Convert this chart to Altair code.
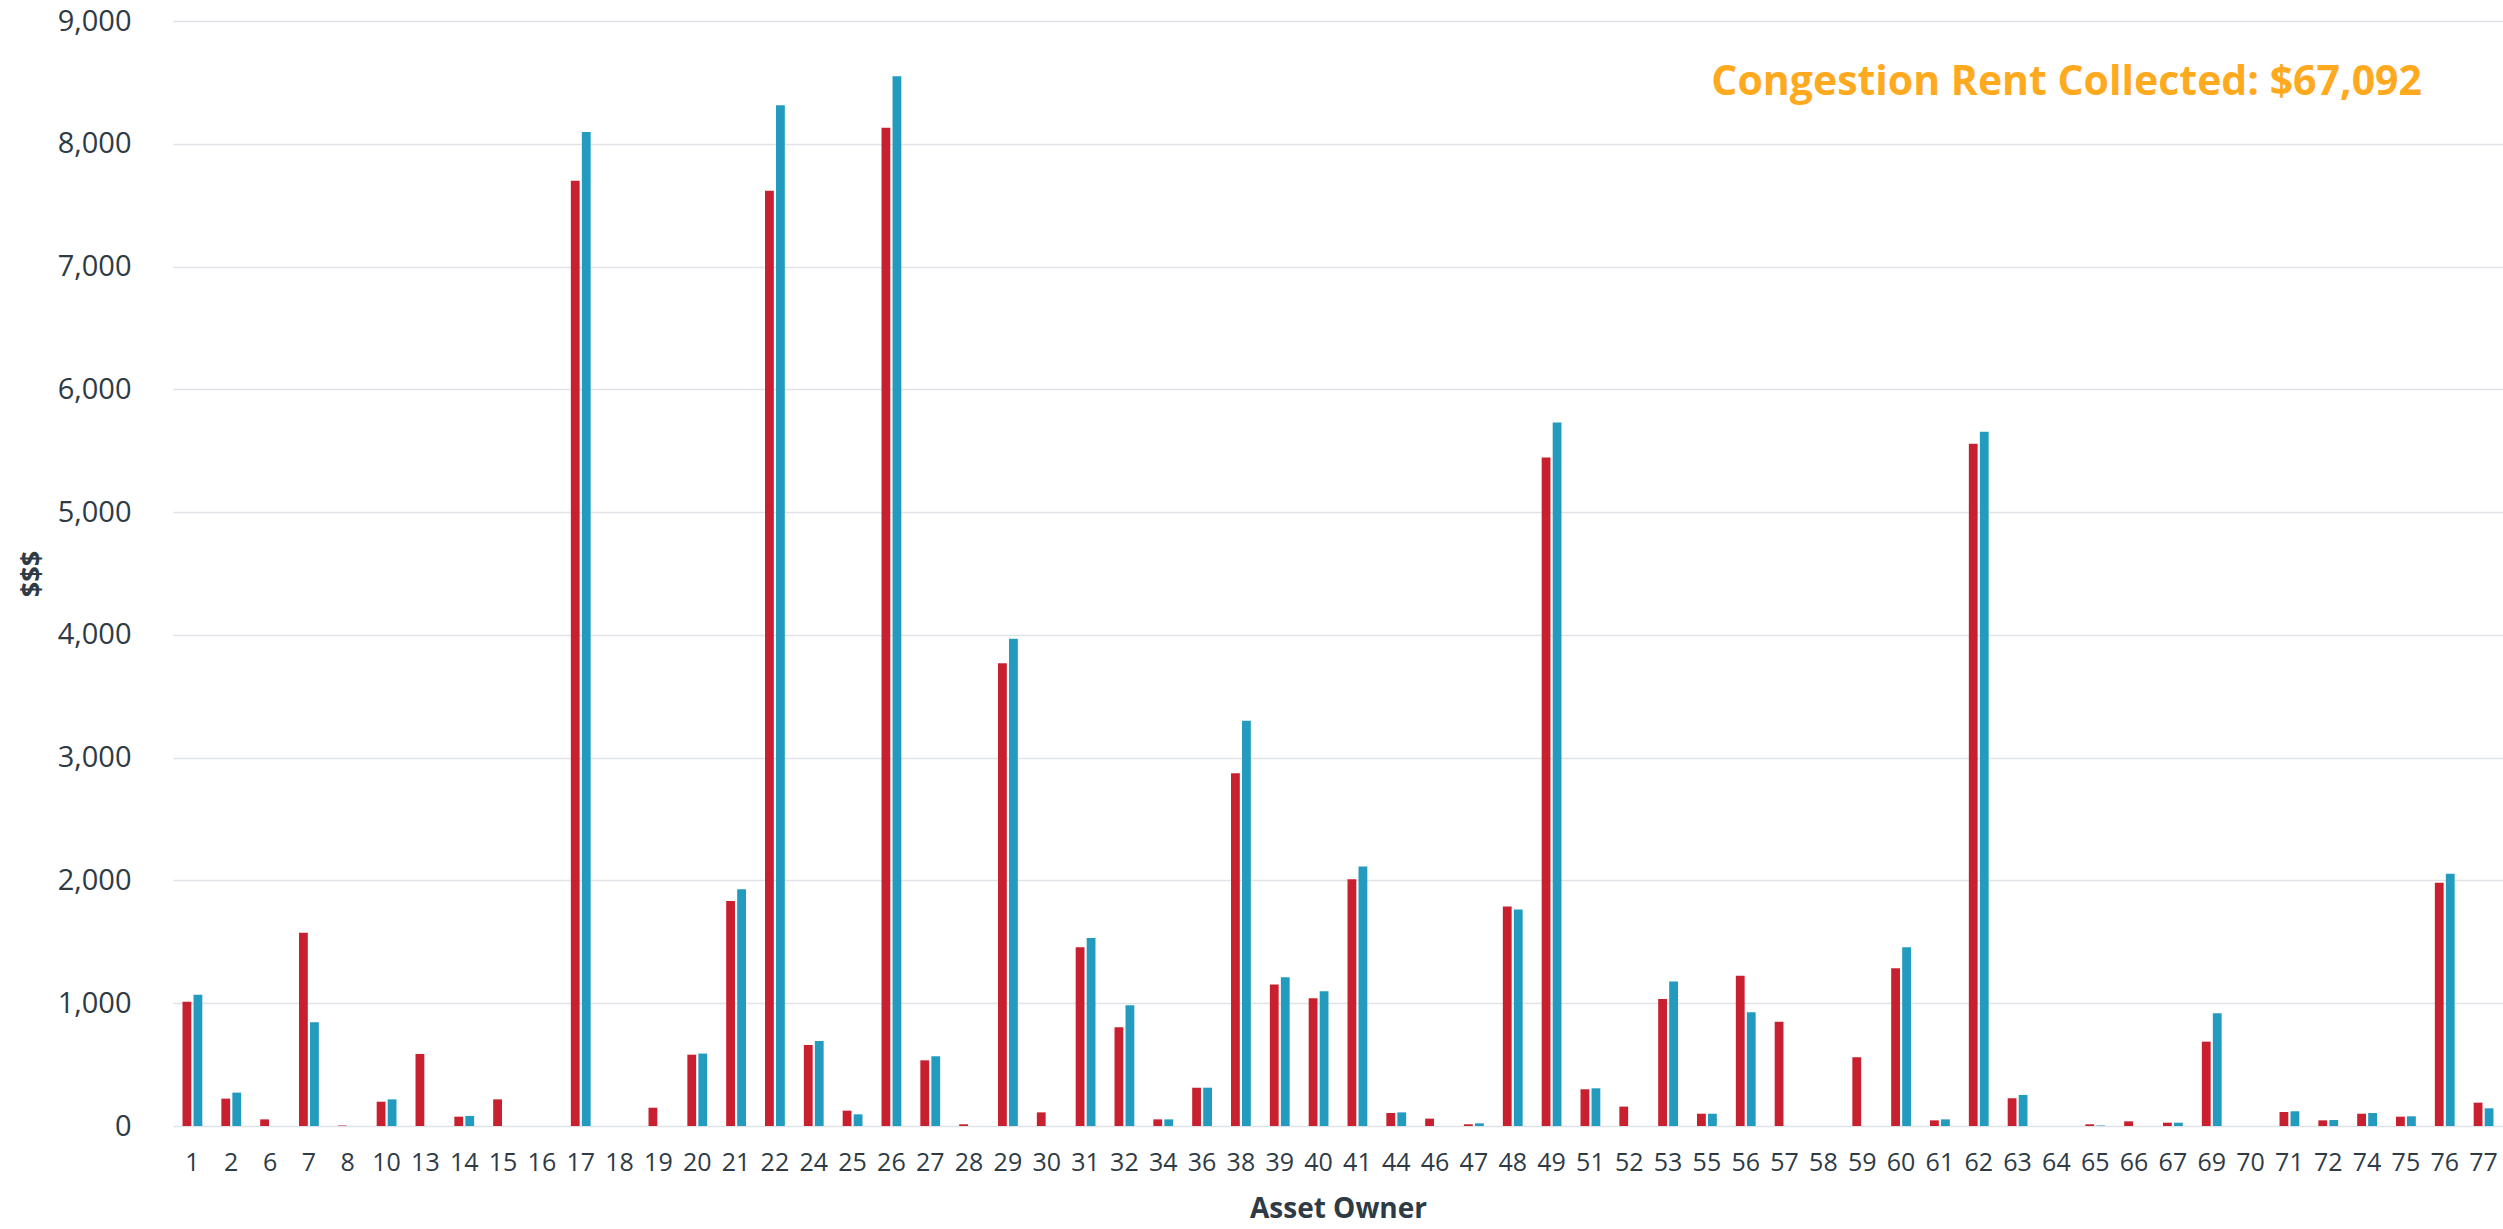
import altair as alt
import pandas as pd

# Asset owners on the x axis, in display order
owners = ["1", "2", "6", "7", "8", "10", "13", "14", "15", "16",
          "17", "18", "19", "20", "21", "22", "24", "25", "26", "27",
          "28", "29", "30", "31", "32", "34", "36", "38", "39", "40",
          "41", "44", "46", "47", "48", "49", "51", "52", "53", "55",
          "56", "57", "58", "59", "60", "61", "62", "63", "64", "65",
          "66", "67", "69", "70", "71", "72", "74", "75", "76", "77"]

# Congestion rent by asset owner ($)
rent = [1011, 223, 54, 1573, 4, 198, 587, 76, 217, 0,
        7699, 0, 149, 581, 1833, 7617, 660, 125, 8131, 535,
        14, 3770, 111, 1456, 804, 54, 312, 2874, 1152, 1041,
        2010, 106, 60, 14, 1788, 5445, 299, 158, 1035, 100,
        1223, 850, 0, 560, 1285, 46, 5556, 226, 0, 14,
        38, 27, 687, 0, 114, 46, 100, 76, 1981, 190]

# Target allocation by asset owner ($)
alloc = [1068, 272, 0, 845, 0, 217, 0, 82, 0, 0,
         8096, 0, 0, 590, 1929, 8313, 693, 95, 8549, 568,
         0, 3969, 0, 1532, 983, 54, 312, 3301, 1212, 1098,
         2114, 111, 0, 22, 1763, 5730, 307, 0, 1176, 100,
         926, 0, 0, 0, 1456, 54, 5654, 253, 0, 4,
         0, 27, 918, 0, 120, 49, 106, 79, 2054, 144]

series_names = ["Congestion Rent", "Target Allocation"]
series_colors = ["#C8202F", "#239BBE"]

rows = []
for o, r, a in zip(owners, rent, alloc):
    rows.append({"owner": o, "series": series_names[0], "value": r})
    rows.append({"owner": o, "series": series_names[1], "value": a})
df = pd.DataFrame(rows)

FONT = "Open Sans"
TEXT = "#2e3b45"
GRID = "#dfe3e8"

bars = alt.Chart(df).mark_bar().encode(
    x=alt.X(
        "owner:N",
        sort=owners,
        scale=alt.Scale(paddingInner=0.49, paddingOuter=0.245),
        axis=alt.Axis(
            title="Asset Owner",
            labelAngle=0,
            ticks=False,
            domain=False,
            grid=False,
            labelFont=FONT,
            labelFontSize=25,
            labelColor=TEXT,
            labelPadding=24,
            titleFont=FONT,
            titleFontSize=28,
            titleFontWeight="bold",
            titleColor=TEXT,
            titlePadding=20,
        ),
    ),
    xOffset=alt.XOffset(
        "series:N",
        sort=series_names,
        scale=alt.Scale(paddingInner=0.2, paddingOuter=0),
    ),
    y=alt.Y(
        "value:Q",
        scale=alt.Scale(domain=[0, 9000], nice=False),
        axis=alt.Axis(
            title="$$$",
            values=list(range(0, 9001, 1000)),
            format=",.0f",
            ticks=False,
            domain=False,
            grid=True,
            gridColor=GRID,
            gridWidth=1.6,
            labelFont=FONT,
            labelFontSize=29,
            labelColor=TEXT,
            labelPadding=42,
            titleFont=FONT,
            titleFontSize=27,
            titleFontWeight="bold",
            titleColor=TEXT,
            titlePadding=12,
        ),
    ),
    color=alt.Color(
        "series:N",
        scale=alt.Scale(domain=series_names, range=series_colors),
        legend=None,
    ),
)

note = alt.Chart(pd.DataFrame({"label": ["Congestion Rent Collected: $67,092"]})).mark_text(
    align="right",
    baseline="middle",
    font=FONT,
    fontSize=41,
    fontWeight="bold",
    color="#FFA91F",
).encode(
    text="label:N",
    x=alt.value(2249),
    y=alt.value(62),
)

chart = (
    alt.layer(bars, note)
    .properties(
        width=2330,
        height=1105,
        padding={"left": 173, "top": 21, "right": 0, "bottom": 103},
        autosize=alt.AutoSizeParams(type="none"),
        background="white",
    )
    .configure_view(stroke=None)
)

chart.save("out.html", embed_options={"renderer": "svg", "actions": False})
